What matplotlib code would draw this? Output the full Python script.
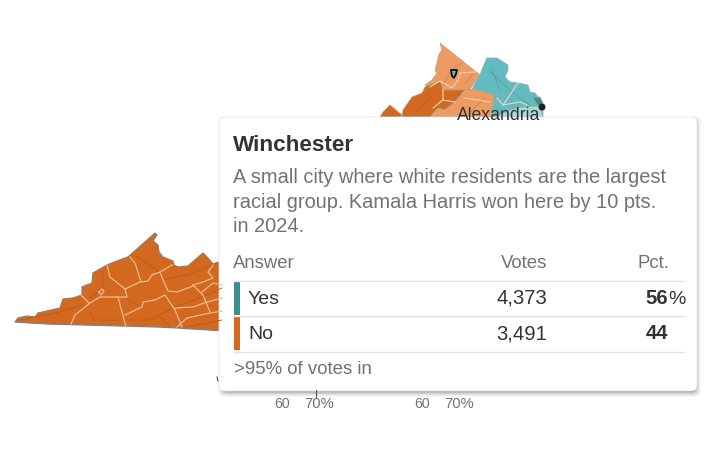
import matplotlib.pyplot as plt
from matplotlib.patches import FancyBboxPatch, Polygon, Rectangle, Circle

plt.rcParams['font.family'] = ['Liberation Sans', 'DejaVu Sans']

answers = ['Yes', 'No']
votes = ['4,373', '3,491']
pcts = ['56', '44']
place = 'Winchester'
blurb = ['A small city where white residents are the largest',
         'racial group. Kamala Harris won here by 10 pts.',
         'in 2024.']
reporting = '>95% of votes in'

# map outlines in pixels
west_outline = [(15, 322), (18, 318), (27, 316), (35, 317), (38, 313), (60, 308), (63, 299), (73, 298),
                (82, 295), (82, 287), (92, 283), (93, 273), (107, 265), (117, 261), (128, 257), (155, 233),
                (157, 235), (153, 241), (158, 245), (159, 252), (163, 257), (173, 261), (174, 265),
                (178, 267), (188, 266), (203, 253), (208, 258), (213, 264), (225, 260), (225, 331),
                (177, 328), (157, 327), (47, 324)]
west_lines = [[(130, 257), (135, 263), (141, 282)],
              [(107, 265), (110, 277), (125, 289)],
              [(125, 289), (140, 282), (148, 281), (152, 275), (160, 272), (172, 265)],
              [(160, 273), (168, 291), (177, 292), (193, 286)],
              [(125, 289), (127, 297), (100, 297), (90, 303), (75, 315), (71, 324)],
              [(81, 295), (89, 303)],
              [(118, 297), (126, 327)],
              [(125, 315), (142, 307), (143, 302), (155, 300), (165, 295), (175, 310), (182, 327)],
              [(193, 285), (203, 295), (210, 312)],
              [(177, 327), (187, 318), (210, 313), (222, 311)],
              [(202, 292), (213, 283), (222, 285)],
              [(193, 285), (203, 282), (213, 278), (208, 272), (213, 265)],
              [(175, 308), (193, 307), (207, 302), (222, 298)],
              [(99, 292), (102, 289), (104, 291), (101, 295), (99, 292)]]
west_roads = [[(163, 280), (187, 275), (217, 263)],
              [(103, 272), (103, 288), (90, 298)],
              [(20, 320), (60, 312), (83, 305)],
              [(137, 257), (157, 270), (163, 280)],
              [(128, 300), (133, 303), (142, 307)],
              [(90, 312), (93, 320), (117, 320)],
              [(127, 320), (150, 320), (173, 308), (207, 295), (222, 288)],
              [(160, 317), (170, 327)],
              [(187, 327), (222, 320)]]

north_light = [(440, 43), (442, 50), (439, 54), (437, 63), (435, 70), (437, 73), (432, 80), (425, 85),
               (430, 87), (440, 81), (443, 90), (465, 90), (470, 89), (480, 75)]
north_dark = [(402, 117), (403, 110), (412, 97), (422, 93), (425, 87), (440, 81), (443, 90), (465, 90),
              (455, 102), (445, 110), (438, 108), (430, 117)]
north_left = [(380, 117), (383, 112), (390, 105), (402, 115), (400, 117)]
north_mid = [(465, 90), (470, 89), (495, 95), (492, 110), (493, 117), (430, 117), (438, 108), (445, 110),
             (455, 102)]
north_teal = [(487, 58), (497, 58), (508, 65), (508, 70), (505, 77), (510, 82), (518, 83), (528, 85),
              (530, 92), (535, 93), (543, 103), (543, 117), (493, 117), (492, 110), (495, 95), (472, 89),
              (480, 75), (483, 67)]
north_pale = [(495, 117), (510, 110), (523, 107), (540, 106), (543, 117)]
north_deep = [(533, 98), (540, 97), (543, 103), (538, 106)]
north_lines = [[(430, 87), (440, 81), (452, 88), (458, 80), (460, 73), (475, 72)],
               [(443, 90), (443, 100), (455, 102)],
               [(433, 108), (443, 100)],
               [(465, 98), (490, 102)],
               [(497, 98), (503, 105), (518, 83)],
               [(503, 105), (520, 102), (527, 105)]]
north_roads = [[(443, 85), (452, 70), (462, 63)],
               [(466, 83), (474, 72)],
               [(490, 72), (510, 90), (530, 105)],
               [(500, 90), (492, 70)],
               [(418, 110), (430, 98)],
               [(470, 112), (485, 98)]]
city_mark = [(451, 70), (457, 70), (456, 74), (454, 78), (452, 76)]

orange = '#d2691f'
light_orange = '#ee9b62'
teal = '#62bcbf'
bar_teal = '#3a8f8c'
text_dark = '#333333'
text_grey = '#727272'

fig = plt.figure(figsize=(7.15, 4.53), dpi=100)
ax = fig.add_axes([0, 0, 1, 1])
ax.set_xlim(0, 715)
ax.set_ylim(453, 0)
ax.axis('off')

ax.add_patch(Polygon(west_outline, fc=orange, ec='#8a7f76', lw=0.9))
for line in west_roads:
    ax.plot(*zip(*line), color='#b65c1c', lw=0.6)
for line in west_lines:
    ax.plot(*zip(*line), color='#f0b98e', lw=0.9)

for pts, col in [(north_light, light_orange), (north_dark, orange), (north_left, orange),
                 (north_mid, light_orange), (north_teal, teal), (north_pale, '#a5dadb'),
                 (north_deep, bar_teal)]:
    ax.add_patch(Polygon(pts, fc=col, ec='#a5a29c', lw=0.5))
for line in north_roads:
    ax.plot(*zip(*line), color='#555555', lw=0.6, alpha=0.3)
for line in north_lines:
    ax.plot(*zip(*line), color='#f3d2b8', lw=0.8)
ax.add_patch(Polygon(city_mark, fc=teal, ec='black', lw=1.2))
ax.add_patch(Circle((542, 107), 2.8, color='#222222'))
ax.text(457, 120, 'Alexandria', fontsize=12.7, color=text_dark, va='baseline')

# axis remains poking out below the tooltip
ax.plot([316, 316], [390, 398], color='#555555', lw=0.8)
ax.plot([217, 218], [377, 381], color='#555555', lw=0.8)
for x0 in [282, 422]:
    ax.text(x0, 408, '60', fontsize=10.2, color=text_grey, ha='center', va='baseline')
    ax.text(x0 + 37, 408, '70%', fontsize=10.6, color=text_grey, ha='center', va='baseline')

# tooltip, shadow first
for grow, alpha in [(5, 0.03), (4, 0.04), (3, 0.05), (2, 0.07), (1, 0.09), (0, 0.12)]:
    ax.add_patch(FancyBboxPatch((223 - grow, 121 - grow), 473 + 2 * grow, 271 + 2 * grow,
                                boxstyle='round,pad=0,rounding_size=6', fc='black', ec='none', alpha=alpha))
ax.add_patch(FancyBboxPatch((219, 117), 478, 274, boxstyle='round,pad=0,rounding_size=6',
                            fc='white', ec='#e8e8e8', lw=0.5))

ax.text(233, 151, place, fontsize=16.2, fontweight='bold', color=text_dark, va='baseline')
for y, line in zip([183, 207.5, 232], blurb):
    ax.text(233, y, line, fontsize=14.4, color=text_grey, va='baseline')

ax.text(233, 268, 'Answer', fontsize=13.3, color=text_grey, va='baseline')
ax.text(547, 268, 'Votes', fontsize=13.4, color=text_grey, va='baseline', ha='right')
ax.text(669, 268, 'Pct.', fontsize=13.4, color=text_grey, va='baseline', ha='right')

for y in [280.5, 315.5, 351.5]:
    ax.plot([234, 684], [y, y], color='#e2e2e2', lw=1)

for i, (name, vote, pct) in enumerate(zip(answers, votes, pcts)):
    top = 281 + i * 35.3
    base = 303.5 + i * 35.5
    ax.add_patch(Rectangle((234, top), 6, 34, fc=[bar_teal, orange][i], ec='none'))
    ax.text(248, base, name, fontsize=14, color=text_dark, va='baseline')
    ax.text(547, base, vote, fontsize=14.6, color=text_dark, va='baseline', ha='right')
    ax.text(668, base, pct, fontsize=14.6, fontweight='bold', color=text_dark, va='baseline', ha='right')
ax.text(668, 303.5, '%', fontsize=14, color=text_dark, va='baseline', ha='left')

ax.text(234, 374, reporting, fontsize=13.4, color=text_grey, va='baseline')

fig.savefig('out.png', dpi=100)
